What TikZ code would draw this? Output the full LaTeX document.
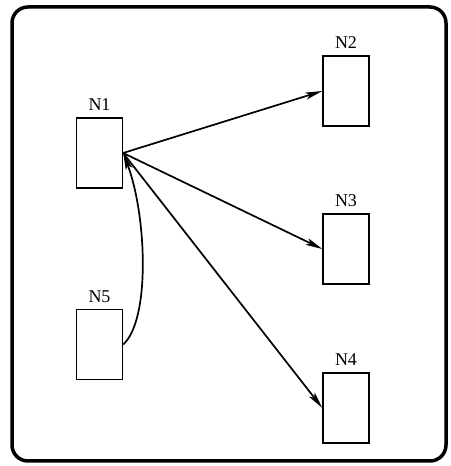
\documentclass[tikz,border=0pt]{standalone}
\usepackage{fontspec}
\setmainfont{Liberation Serif}
\usetikzlibrary{arrows.meta}
\begin{document}
\begin{tikzpicture}
[x=1pt,y=1pt,
frame/.style={line width=3.5pt,black,rounded corners=16pt},
block/.style={draw,line width=1.3pt,minimum width=46pt,minimum height=70pt,inner sep=0pt},
tag/.style={font=\fontsize{18}{20}\selectfont},
link/.style={line width=1.7pt,-{Stealth[length=17pt,width=7pt,inset=4pt]}}]

\useasboundingbox (0,0) rectangle (450,466);

%draw the frame
\draw[frame] (12,459) rectangle (446,5);

%draw the blocks
\node[block,label={[tag,label distance=3pt]above:N1}] (n1) at (99.5,313) {};
\node[block,label={[tag,label distance=3pt]above:N5}] (n5) at (99.5,121.5) {};
\node[block,label={[tag,label distance=3pt]above:N2}] (n2) at (346,375) {};
\node[block,label={[tag,label distance=3pt]above:N3}] (n3) at (346,217) {};
\node[block,label={[tag,label distance=3pt]above:N4}] (n4) at (346,58) {};

%draw the links
\draw[link] (n1.east) -- (n2.west);
\draw[link] (n1.east) -- (n3.west);
\draw[link] (n1.east) -- (n4.west);
\draw[link] (n5.east) .. controls +(27.5,24.5) and +(23.5,-62) .. (n1.east);

\end{tikzpicture}
\end{document}
